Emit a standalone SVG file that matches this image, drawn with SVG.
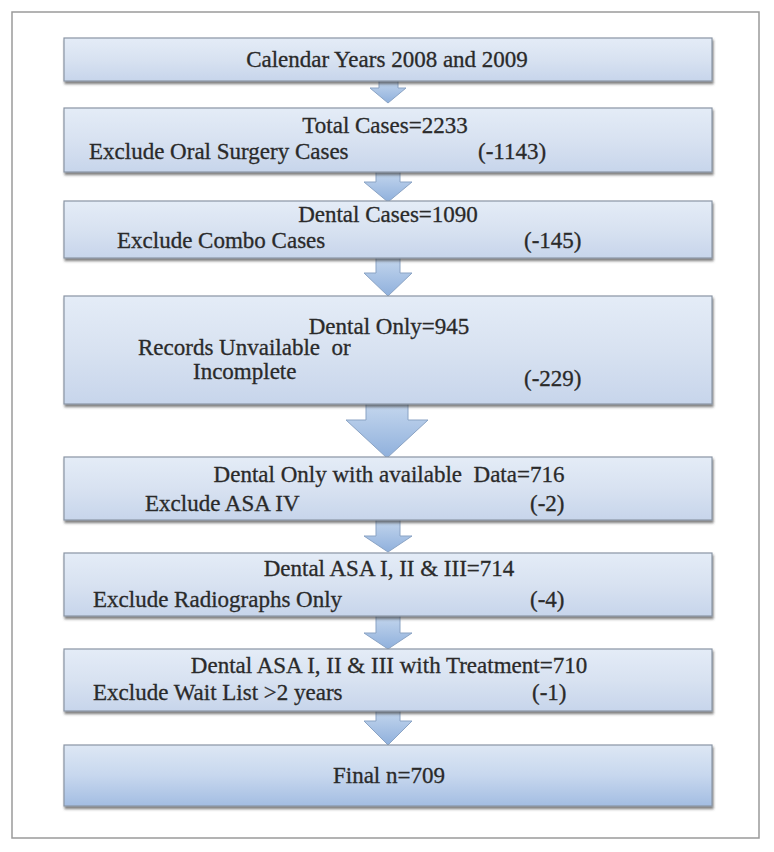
<svg xmlns="http://www.w3.org/2000/svg" width="774" height="852" viewBox="0 0 774 852">
  <defs>
    <linearGradient id="boxGrad" x1="0" y1="0" x2="0" y2="1">
      <stop offset="0" stop-color="#e4ecf7"/>
      <stop offset="0.5" stop-color="#d8e2f1"/>
      <stop offset="1" stop-color="#c7d5eb"/>
    </linearGradient>
    <linearGradient id="finalGrad" x1="0" y1="0" x2="0" y2="1">
      <stop offset="0" stop-color="#dde7f4"/>
      <stop offset="0.5" stop-color="#c7d7ee"/>
      <stop offset="1" stop-color="#a3bde2"/>
    </linearGradient>
    <linearGradient id="arrowGrad" x1="0" y1="0" x2="0" y2="1">
      <stop offset="0" stop-color="#c5d7ee"/>
      <stop offset="1" stop-color="#8fb0dc"/>
    </linearGradient>
    <filter id="shadow" x="-5%" y="-20%" width="110%" height="150%">
      <feDropShadow dx="1" dy="2.5" stdDeviation="1.2" flood-color="#3a3a3a" flood-opacity="0.65"/>
    </filter>
  </defs>
  <style>
    .box { fill: url(#boxGrad); stroke: #8a96a5; stroke-width: 1.2; filter: url(#shadow); }
    .final { fill: url(#finalGrad); stroke: #8a96a5; stroke-width: 1.2; filter: url(#shadow); }
    .arrow { fill: url(#arrowGrad); stroke: #8aa3c4; stroke-width: 1; }
    text { font-family: "Liberation Serif", "Times New Roman", serif; font-size: 23px; fill: #2a2a2a; stroke: #2a2a2a; stroke-width: 0.3; }
    .c { text-anchor: middle; }
  </style>
  <rect x="12" y="12" width="747" height="826" fill="#ffffff" stroke="#9a9a9a" stroke-width="1.5"/>

  <g id="connectors">
    <polygon class="arrow" points="379,80 398,80 398,88 406,88 388,103 370,88 379,88"/>
    <polygon class="arrow" points="376,171 400,171 400,182 412,182 388,202 364,182 376,182"/>
    <polygon class="arrow" points="376,257 400,257 400,273 412,273 388,296 364,273 376,273"/>
    <polygon class="arrow" points="366,403 408,403 408,420 428,420 387,458 346,420 366,420"/>
    <polygon class="arrow" points="376,519 400,519 400,536 412,536 388,552 364,536 376,536"/>
    <polygon class="arrow" points="376,615 400,615 400,633 412,633 388,649 364,633 376,633"/>
    <polygon class="arrow" points="376,710 400,710 400,721 412,721 388,745 364,721 376,721"/>
  </g>

  <g id="n1">
    <rect class="box" x="64" y="38" width="648" height="43"/>
    <text class="c" x="387" y="67">Calendar Years 2008 and 2009</text>
  </g>
  <g id="n2">
    <rect class="box" x="64" y="108" width="648" height="64"/>
    <text class="c" x="385" y="133">Total Cases=2233</text>
    <text x="89" y="159">Exclude Oral Surgery Cases</text>
    <text x="478" y="159">(-1143)</text>
  </g>
  <g id="n3">
    <rect class="box" x="64" y="201" width="648" height="57"/>
    <text class="c" x="388" y="222">Dental Cases=1090</text>
    <text x="117" y="248">Exclude Combo Cases</text>
    <text x="524" y="248">(-145)</text>
  </g>
  <g id="n4">
    <rect class="box" x="64" y="296" width="648" height="108"/>
    <text class="c" x="389" y="334">Dental Only=945</text>
    <text x="138" y="355">Records Unvailable &#160;or</text>
    <text x="193" y="379">Incomplete</text>
    <text x="524" y="386">(-229)</text>
  </g>
  <g id="n5">
    <rect class="box" x="64" y="457" width="648" height="63"/>
    <text class="c" x="389" y="482">Dental Only with available &#160;Data=716</text>
    <text x="145" y="511">Exclude ASA IV</text>
    <text x="530" y="511">(-2)</text>
  </g>
  <g id="n6">
    <rect class="box" x="64" y="553" width="648" height="63"/>
    <text class="c" x="389" y="576">Dental ASA I, II &amp; III=714</text>
    <text x="93" y="607">Exclude Radiographs Only</text>
    <text x="530" y="607">(-4)</text>
  </g>
  <g id="n7">
    <rect class="box" x="64" y="649" width="648" height="62"/>
    <text class="c" x="389" y="673">Dental ASA I, II &amp; III with Treatment=710</text>
    <text x="93" y="700">Exclude Wait List &gt;2 years</text>
    <text x="532" y="700">(-1)</text>
  </g>
  <g id="n8">
    <rect class="final" x="64" y="745" width="648" height="61"/>
    <text class="c" x="389" y="783">Final n=709</text>
  </g>
</svg>
